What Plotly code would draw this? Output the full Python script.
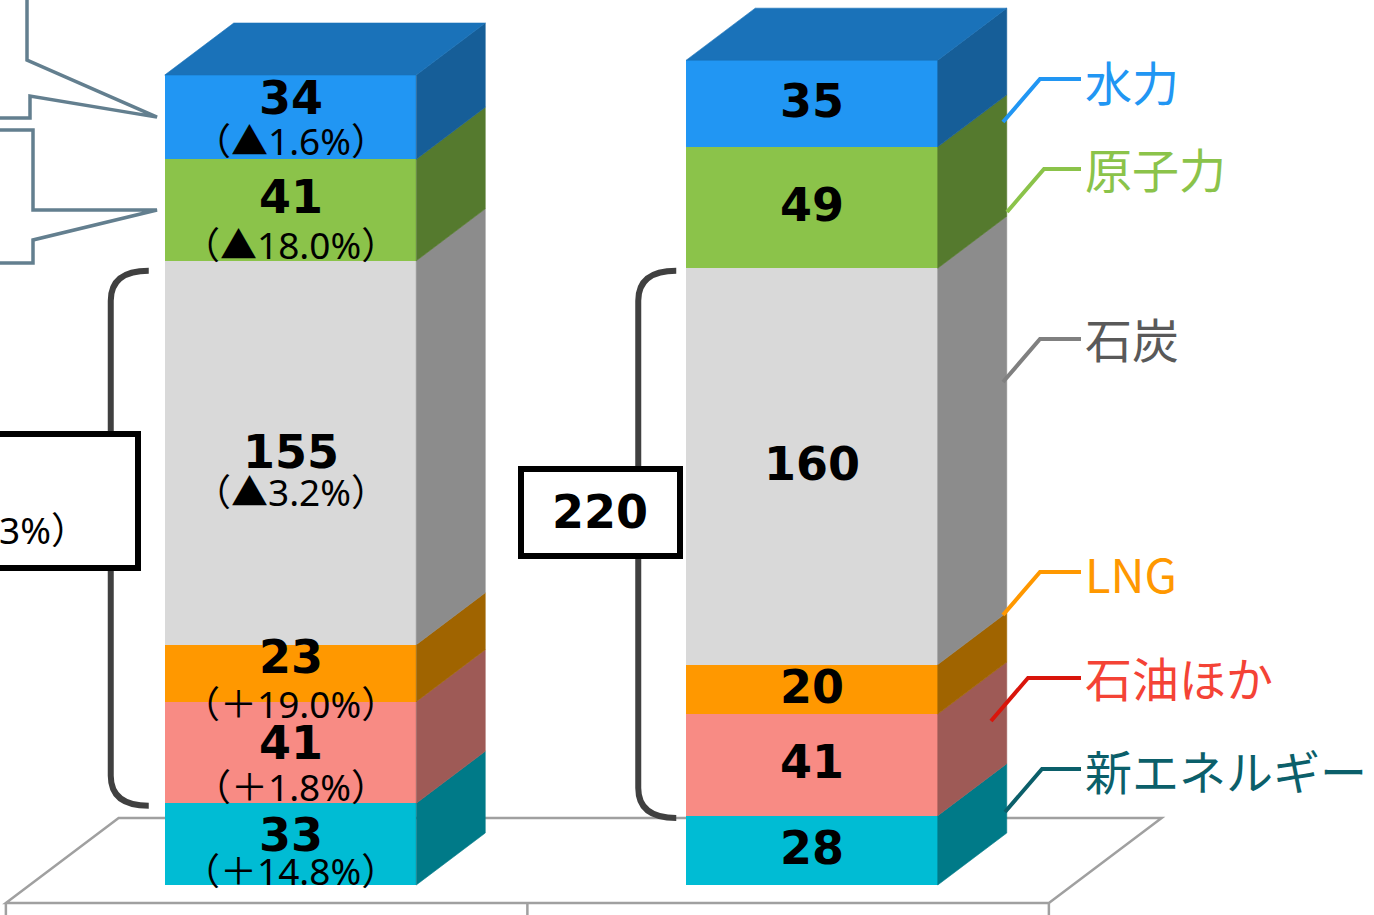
import plotly.graph_objects as go

# ---------------- data ----------------
SOURCES = ["新エネルギー", "石油ほか", "LNG", "石炭", "原子力", "水力"]
BAR_POS = [0, 1]
VALUES_A = [33, 41, 23, 155, 41, 34]
VALUES_B = [28, 41, 20, 160, 49, 35]
CHANGES_A = ["（＋14.8%）", "（＋1.8%）", "（＋19.0%）", "（▲3.2%）", "（▲18.0%）", "（▲1.6%）"]
THERMAL_TOTAL_B = "220"
THERMAL_CHANGE_A = "（▲0.3%）"
THERMAL_IDX = [1, 2, 3]  # 石油ほか, LNG, 石炭

# ---------------- styles ----------------
FRONT = ["#00BCD4", "#F88B84", "#FF9800", "#D9D9D9", "#8BC34A", "#2196F3"]
SIDE = ["#007A88", "#9E5A56", "#A06400", "#8C8C8C", "#557A2E", "#165E98"]
TOP = "#1A72B9"
LABEL_COL = ["#0B5F6A", "#F44336", "#FF9800", "#595959", "#8BC34A", "#2196F3"]
LEADER_COL = ["#0B5F6A", "#D9150B", "#FF9800", "#808080", "#8BC34A", "#2196F3"]
CALLOUT_COL = "#637F8F"
FLOOR_COL = "#A0A0A0"
BRACKET_COL = "#404040"

NUM_FONT = dict(family="DejaVu Sans", size=46, color="black")
PCT_FONT = dict(family="Noto Sans, Noto Sans CJK JP", size=37, color="black")
LBL_FONT_SIZE = 47

# ---------------- geometry (pixel <-> axis) ----------------
W, H = 1374, 915
Y0_PX, PPU = 885.0, 2.477
C0_PX, CAT_PX = 290.5, 521.5


def x_of(px):
    return (px - C0_PX) / CAT_PX


def y_of(py):
    return (Y0_PX - py) / PPU


XR = [x_of(0), x_of(W)]
YR = [y_of(H), y_of(0)]
BAR_W = 251.5 / CAT_PX
DX = 69 / CAT_PX
DY = 52 / PPU
D_FRONT, D_BACK = -0.346, 1.288


def proj(xc, yv, d):
    return xc + d * DX, yv + d * DY


def cum(vals):
    out = [0]
    for v in vals:
        out.append(out[-1] + v)
    return out


fig = go.Figure()

# front faces
for i, s in enumerate(SOURCES):
    fig.add_trace(go.Bar(
        x=BAR_POS, y=[VALUES_A[i], VALUES_B[i]], name=s, width=BAR_W,
        marker=dict(color=FRONT[i], line=dict(width=0)), hoverinfo="skip"))

# side and top faces
for j, vals in enumerate([VALUES_A, VALUES_B]):
    c = cum(vals)
    xr = BAR_POS[j] + BAR_W / 2
    xl = BAR_POS[j] - BAR_W / 2
    for i in range(len(vals)):
        y0, y1 = c[i], c[i + 1]
        p = [(xr, y0), proj(xr, y0, 1), proj(xr, y1, 1), (xr, y1), (xr, y0)]
        fig.add_trace(go.Scatter(
            x=[q[0] for q in p], y=[q[1] for q in p], mode="lines", fill="toself",
            fillcolor=SIDE[i], line=dict(width=0.6, color=SIDE[i]), hoverinfo="skip"))
    t = c[-1]
    p = [(xl, t), proj(xl, t, 1), proj(xr, t, 1), (xr, t), (xl, t)]
    fig.add_trace(go.Scatter(
        x=[q[0] for q in p], y=[q[1] for q in p], mode="lines", fill="toself",
        fillcolor=TOP, line=dict(width=0.6, color=TOP), hoverinfo="skip"))

shapes = []
# floor
fl = proj(-0.5, 0, D_FRONT)
fr = proj(1.5, 0, D_FRONT)
br = proj(1.5, 0, D_BACK)
bl = proj(-0.5, 0, D_BACK)
shapes.append(dict(type="path", xref="x", yref="y", layer="below",
                   path=f"M{fl[0]},{fl[1]} L{fr[0]},{fr[1]} L{br[0]},{br[1]} L{bl[0]},{bl[1]} Z",
                   fillcolor="white", line=dict(color=FLOOR_COL, width=2.5)))
for cpos in [-0.5, 0.5, 1.5]:
    a = proj(cpos, 0, D_FRONT)
    shapes.append(dict(type="line", xref="x", yref="y", layer="below",
                       x0=a[0], y0=a[1], x1=a[0], y1=a[1] - 14 / PPU,
                       line=dict(color=FLOOR_COL, width=2.5)))

# brackets around thermal power
BR_GAP_PX = [16, 10]
BR_REACH_PX = [54, 48]
BR_INSET = [4, 1]
for j, vals in enumerate([VALUES_A, VALUES_B]):
    c = cum(vals)
    top = c[THERMAL_IDX[-1] + 1] - BR_INSET[j]
    bot = c[THERMAL_IDX[0]] - 1
    xl = BAR_POS[j] - BAR_W / 2
    ex = xl - BR_GAP_PX[j] / CAT_PX
    vx = xl - BR_REACH_PX[j] / CAT_PX
    ry = 30 / PPU
    shapes.append(dict(type="path", xref="x", yref="y",
                       path=f"M{ex},{top} Q{vx},{top} {vx},{top - ry} L{vx},{bot + ry} Q{vx},{bot} {ex},{bot}",
                       line=dict(color=BRACKET_COL, width=6)))

# boxes (pixel extents: x0, x1, y0, y1)
BOX_PX = [(-60, 138, 434, 568), (521, 680, 469, 556)]
for (x0, x1, y0, y1) in BOX_PX:
    shapes.append(dict(type="rect", xref="x", yref="y",
                       x0=x_of(x0), x1=x_of(x1), y0=y_of(y1), y1=y_of(y0),
                       fillcolor="white", line=dict(color="black", width=6)))

# callouts pointing at the top two segments of the first bar
cA = cum(VALUES_A)
tip_x = x_of(157)
tip1 = (cA[5] + cA[6]) / 2
tip2 = (cA[4] + cA[5]) / 2
co1 = [(x_of(27), y_of(-5)), (x_of(27), y_of(60)), (tip_x, tip1), (x_of(30), y_of(96)),
       (x_of(30), y_of(118)), (x_of(-5), y_of(118))]
co2 = [(x_of(-5), y_of(130)), (x_of(33), y_of(130)), (x_of(33), y_of(210)), (tip_x, tip2),
       (x_of(33), y_of(240)), (x_of(33), y_of(263)), (x_of(-5), y_of(263))]
for co in [co1, co2]:
    path = "M" + " L".join(f"{a},{b}" for a, b in co)
    shapes.append(dict(type="path", xref="x", yref="y", path=path,
                       line=dict(color=CALLOUT_COL, width=3.5)))

# leader lines for series labels
LEADER_Y_PX = [769, 678, 572, 339, 169, 79]
LABEL_Y_PX = [769, 676, 572, 337, 167, 80]
LEADER_X0_PX = [1005, 991, 1003, 1003, 1007, 1003]
LEADER_END_PX = 1081
LABEL_X_PX = 1083
for i in range(len(SOURCES)):
    ly = LEADER_Y_PX[i]
    x0 = LEADER_X0_PX[i]
    pts = [(x_of(x0), y_of(ly + 43)), (x_of(x0 + 37), y_of(ly)), (x_of(LEADER_END_PX), y_of(ly))]
    path = "M" + " L".join(f"{a},{b}" for a, b in pts)
    shapes.append(dict(type="path", xref="x", yref="y", path=path,
                       line=dict(color=LEADER_COL[i], width=4)))

annotations = []
# series labels
for i, s in enumerate(SOURCES):
    annotations.append(dict(x=x_of(LABEL_X_PX), y=y_of(LABEL_Y_PX[i]), xref="x", yref="y",
                            text=s, showarrow=False, xanchor="left", yanchor="middle",
                            font=dict(family="Noto Sans CJK JP", size=LBL_FONT_SIZE, color=LABEL_COL[i])))

# value labels, bar A (value + change)
NUM_DY_PX_A = [-9, -9, -16, -1, -13, -19]
PCT_DY_PX_A = [26, 34, 30, 39, 34, 23]
for i in range(len(SOURCES)):
    mid_px = Y0_PX - (cA[i] + cA[i + 1]) / 2 * PPU
    annotations.append(dict(x=BAR_POS[0], y=y_of(mid_px + NUM_DY_PX_A[i]), xref="x", yref="y",
                            text=f"<b>{VALUES_A[i]}</b>", showarrow=False, yanchor="middle",
                            font=NUM_FONT))
    annotations.append(dict(x=BAR_POS[0], y=y_of(mid_px + PCT_DY_PX_A[i]), xref="x", yref="y",
                            text=CHANGES_A[i], showarrow=False, yanchor="middle",
                            font=PCT_FONT))

# value labels, bar B
cB = cum(VALUES_B)
for i in range(len(SOURCES)):
    annotations.append(dict(x=BAR_POS[1], y=(cB[i] + cB[i + 1]) / 2 + 1, xref="x", yref="y",
                            text=f"<b>{VALUES_B[i]}</b>", showarrow=False, yanchor="middle",
                            font=NUM_FONT))

# box texts
annotations.append(dict(x=x_of(600), y=y_of(512), xref="x", yref="y", text=f"<b>{THERMAL_TOTAL_B}</b>",
                        showarrow=False, yanchor="middle", font=NUM_FONT))
annotations.append(dict(x=x_of(90), y=y_of(529), xref="x", yref="y", text=THERMAL_CHANGE_A,
                        showarrow=False, xanchor="right", yanchor="middle", font=PCT_FONT))

fig.update_layout(
    width=W, height=H, autosize=False,
    margin=dict(l=0, r=0, t=0, b=0, pad=0),
    barmode="stack", showlegend=False,
    plot_bgcolor="white", paper_bgcolor="white",
    xaxis=dict(range=XR, visible=False, fixedrange=True),
    yaxis=dict(range=YR, visible=False, fixedrange=True),
    shapes=shapes, annotations=annotations,
)

fig.write_html("out.html", config={"displayModeBar": False})
